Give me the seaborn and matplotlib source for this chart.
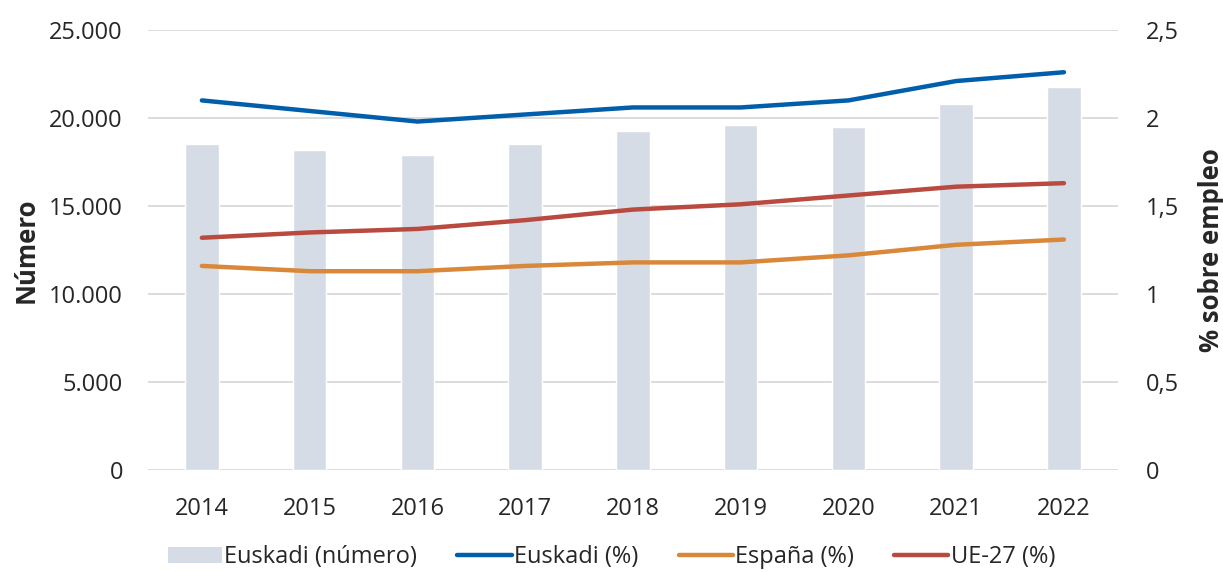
import pandas as pd
import matplotlib.pyplot as plt
import matplotlib.ticker as mticker
from matplotlib.patches import Patch
from matplotlib.lines import Line2D
import seaborn as sns

# Datos
anios = ["2014", "2015", "2016", "2017", "2018", "2019", "2020", "2021", "2022"]
euskadi_numero = [18500, 18200, 17900, 18550, 19250, 19600, 19500, 20800, 21750]
euskadi_pct = [2.10, 2.04, 1.98, 2.02, 2.06, 2.06, 2.10, 2.21, 2.26]
espana_pct = [1.16, 1.13, 1.13, 1.16, 1.18, 1.18, 1.22, 1.28, 1.31]
ue27_pct = [1.32, 1.35, 1.37, 1.42, 1.48, 1.51, 1.56, 1.61, 1.63]

series = ["Euskadi (%)", "España (%)", "UE-27 (%)"]
colores = {"Euskadi (%)": "#005EAA", "España (%)": "#D9883A", "UE-27 (%)": "#B94A40"}
color_barra = "#D6DCE5"

df_bar = pd.DataFrame({"anio": anios, "numero": euskadi_numero})
df_lin = pd.DataFrame({
    "anio": anios * 3,
    "serie": [series[0]] * 9 + [series[1]] * 9 + [series[2]] * 9,
    "valor": euskadi_pct + espana_pct + ue27_pct,
})

sns.set_theme(style="white")
plt.rcParams["font.family"] = ["Open Sans", "DejaVu Sans"]

fig, ax = plt.subplots(figsize=(12.23, 5.72), dpi=100)
fig.subplots_adjust(left=0.121, right=0.914, bottom=0.178, top=0.9476)

sns.barplot(data=df_bar, x="anio", y="numero", color=color_barra, width=0.31,
            saturation=1, ax=ax, zorder=2)
ax.set_ylim(0, 25000)
ax.set_yticks(range(0, 25001, 5000))
ax.yaxis.set_major_formatter(mticker.FuncFormatter(lambda v, p: f"{int(v):,}".replace(",", ".")))
ax.grid(axis="y", color="#D9D9D9", linewidth=1.3, zorder=0)
ax.set_axisbelow(True)
ax.set_xlim(-0.5, 8.5)

ax2 = ax.twinx()
sns.lineplot(data=df_lin, x="anio", y="valor", hue="serie", palette=colores,
             linewidth=3.2, ax=ax2, legend=False, solid_capstyle="round")
ax2.set_ylim(0, 2.5)
ax2.set_yticks([0, 0.5, 1, 1.5, 2, 2.5])
ax2.yaxis.set_major_formatter(mticker.FuncFormatter(lambda v, p: f"{v:g}".replace(".", ",")))
ax2.set_xlim(-0.5, 8.5)

for a in (ax, ax2):
    for s in a.spines.values():
        s.set_visible(False)
    a.tick_params(length=0, labelsize=17, colors="#262626")
ax.tick_params(axis="y", pad=18)
ax.tick_params(axis="x", pad=19)
ax2.tick_params(axis="y", pad=20)

ax.set_xlabel("")
ax.set_ylabel("Número", fontsize=18.5, fontweight="bold", labelpad=7)
ax2.set_xlabel("")
ax2.set_ylabel("% sobre empleo", fontsize=18.5, fontweight="bold", labelpad=14)

handles = [Patch(facecolor=color_barra, edgecolor="none", label="Euskadi (número)")]
for s in series:
    handles.append(Line2D([0], [0], color=colores[s], linewidth=3.2, label=s,
                          solid_capstyle="round"))
fig.legend(handles=handles, loc="lower center", ncol=4, frameon=False, fontsize=17,
           bbox_to_anchor=(0.5, -0.032), handlelength=2.3, handletextpad=0.1,
           columnspacing=1.7)

plt.savefig("out.png", dpi=100)
